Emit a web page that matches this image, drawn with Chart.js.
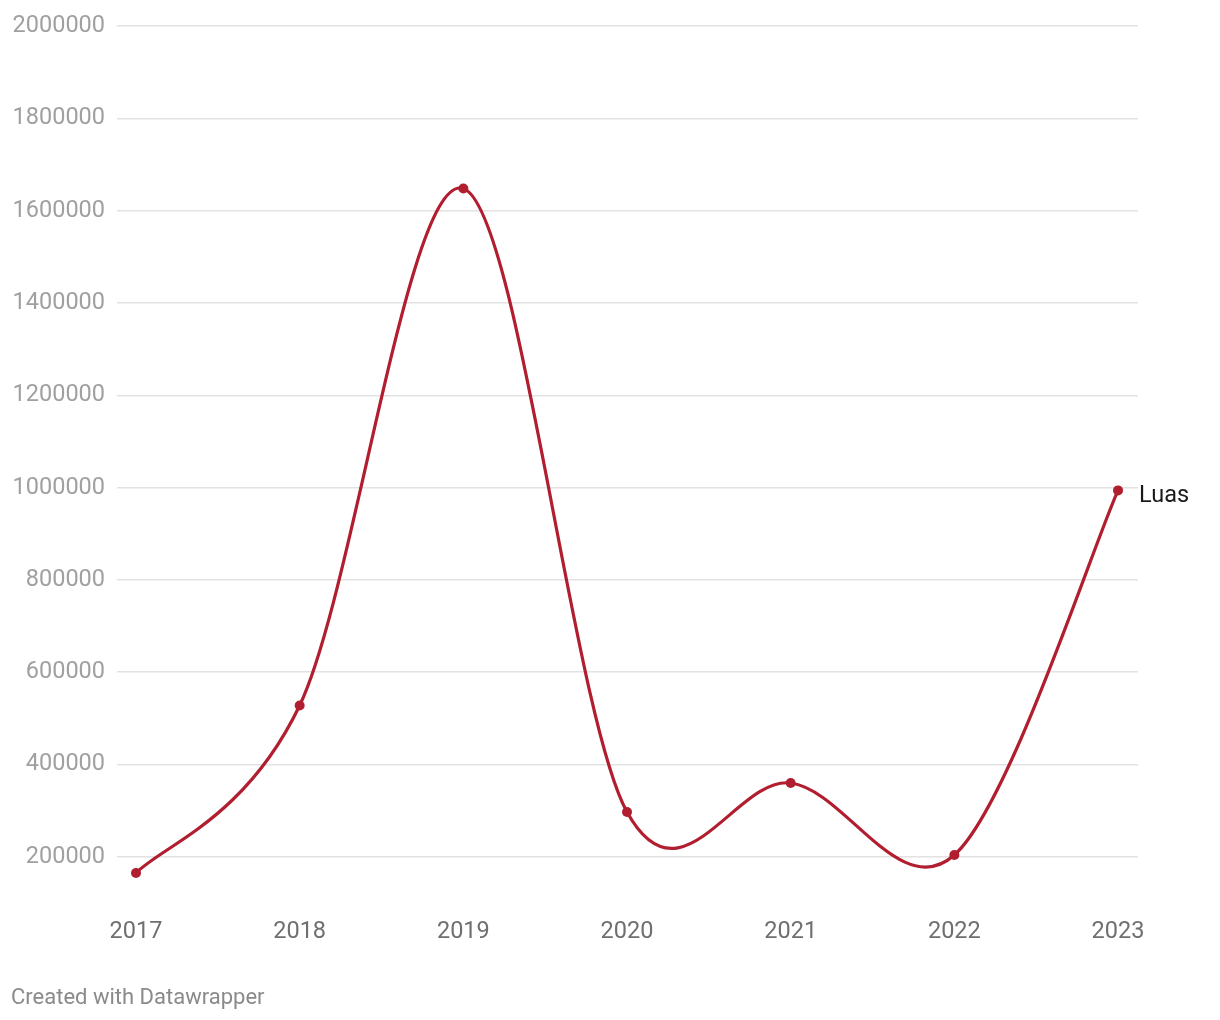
<!DOCTYPE html>
<html lang="en">
<head>
    <meta charset="UTF-8">
    <title>Luas</title>
    <style>
        body {
            margin: 0;
            background: #fff;
            font-family: Roboto, sans-serif;
        }
        #wrap {
            position: relative;
            width: 1220px;
            height: 1020px;
        }
        #footer {
            position: absolute;
            left: 11px;
            top: 984px;
            font-size: 22px;
            color: #8a8a8a;
        }
    </style>
    <script src="https://cdn.jsdelivr.net/npm/chart.js"></script>
</head>
<body>
    <div id="wrap">
        <canvas id="chart" width="1220" height="1020"></canvas>
        <div id="footer">Created with Datawrapper</div>
    </div>

    <script>
        // Data
        const years = [2017, 2018, 2019, 2020, 2021, 2022, 2023];
        const luas = [165000, 528000, 1648000, 297000, 360000, 204000, 994000];
        const yTicks = [200000, 400000, 600000, 800000, 1000000, 1200000, 1400000, 1600000, 1800000, 2000000];
        const seriesName = 'Luas';
        const lineColor = '#b01e2f';

        // Datawrapper draws a plain cardinal curve; redo the bezier handles
        // from the point positions so the shape matches
        const cardinal = {
            id: 'cardinal',
            beforeDatasetsDraw(chart) {
                const meta = chart.getDatasetMeta(0);
                const line = meta.dataset;
                line.updateControlPoints(chart.chartArea, 'x');
                const pts = meta.data;
                pts.forEach((p, i) => {
                    const prev = pts[i - 1] || p;
                    const next = pts[i + 1] || p;
                    const dx = (next.x - prev.x) / 6;
                    const dy = (next.y - prev.y) / 6;
                    p.cp1x = p.x - dx;
                    p.cp1y = p.y - dy;
                    p.cp2x = p.x + dx;
                    p.cp2y = p.y + dy;
                });
                line._path = undefined;
            }
        };

        // label at the end of the line
        const endLabel = {
            id: 'endLabel',
            afterDatasetsDraw(chart) {
                const meta = chart.getDatasetMeta(0);
                const pt = meta.data[meta.data.length - 1];
                const c = chart.ctx;
                c.save();
                c.font = '23.5px Roboto';
                c.fillStyle = '#1a1a1a';
                c.textAlign = 'left';
                c.textBaseline = 'middle';
                c.fillText(seriesName, pt.x + 21, pt.y + 6);
                c.restore();
            }
        };

        new Chart(document.getElementById('chart'), {
            type: 'line',
            data: {
                datasets: [{
                    label: seriesName,
                    data: years.map((y, i) => ({ x: y, y: luas[i] })),
                    borderColor: lineColor,
                    backgroundColor: lineColor,
                    borderWidth: 3.2,
                    pointRadius: 5,
                    pointBorderWidth: 0,
                    tension: 0.4
                }]
            },
            options: {
                responsive: false,
                animation: false,
                layout: { padding: { top: 21, right: 82, left: 0, bottom: 0 } },
                plugins: { legend: { display: false }, tooltip: { enabled: false } },
                scales: {
                    x: {
                        type: 'linear',
                        min: 2016.884,
                        max: 2023.122,
                        grid: { display: false },
                        border: { display: false },
                        afterBuildTicks: s => { s.ticks = years.map(v => ({ value: v })); },
                        afterFit: s => { s.height = 117; },
                        ticks: {
                            callback: v => String(v),
                            color: '#6f6f6f',
                            font: { family: 'Roboto', size: 23.5 },
                            padding: 7,
                            maxRotation: 0
                        }
                    },
                    y: {
                        min: 100000,
                        max: 2000000,
                        border: { display: false },
                        grid: { color: '#e2e2e2', lineWidth: 1.5, drawTicks: false },
                        afterBuildTicks: s => { s.ticks = yTicks.map(v => ({ value: v })); },
                        afterFit: s => { s.width = 117; },
                        ticks: {
                            callback: v => String(v),
                            color: '#a0a0a0',
                            font: { family: 'Roboto', size: 23.5 },
                            padding: 12
                        }
                    }
                }
            },
            plugins: [cardinal, endLabel]
        });
    </script>
</body>
</html>
